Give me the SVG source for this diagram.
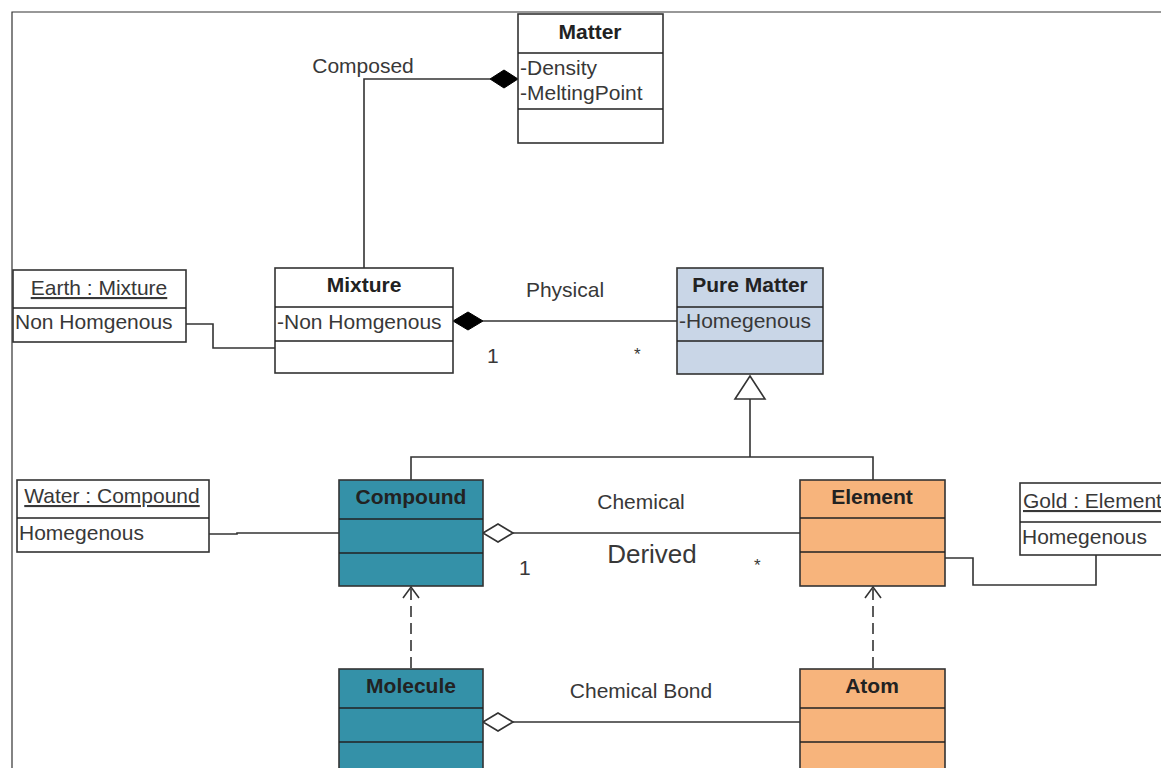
<svg xmlns="http://www.w3.org/2000/svg" width="1161" height="768" viewBox="0 0 1161 768">
<defs>
<style>
.box{stroke:#333;stroke-width:1.6}
.sep{stroke:#222;stroke-width:1.6}
.w{fill:#fff}
.pm{fill:#c9d6e7}
.teal{fill:#3491a8}
.org{fill:#f7b47c}
.t{font-family:"Liberation Sans",Arial,sans-serif;font-size:21px;fill:#383838}
.b{font-family:"Liberation Sans",Arial,sans-serif;font-size:21px;font-weight:bold;fill:#222;text-anchor:middle}
.u{text-decoration:underline}
.c{text-anchor:middle}
.ln{fill:none;stroke:#333;stroke-width:1.6}
.dash{fill:none;stroke:#333;stroke-width:1.6;stroke-dasharray:11 6}
</style>
</defs>
<rect width="1161" height="768" fill="#fff"/>
<path d="M12,768 V12 H1161" fill="none" stroke="#333" stroke-width="1.2"/>

<g id="connectors">
<path class="ln" d="M364,268 V79 H490"/>
<path d="M518,79 L504,70 L490,79 L504,88 Z" fill="#000" stroke="#000" stroke-width="1"/>
<path class="ln" d="M186,324 H213 V348 H275"/>
<path class="ln" d="M483,321 H677"/>
<path d="M453,321 L468,312 L483,321 L468,330 Z" fill="#000" stroke="#000" stroke-width="1"/>
<path class="ln" d="M750,399 V457 M411,480 V457 H873 V480"/>
<path d="M750,376 L765,399 L735,399 Z" fill="#fff" stroke="#333" stroke-width="1.6"/>
<path class="ln" d="M209,534 H237 V533 H339"/>
<path class="ln" d="M513,533 H800"/>
<path d="M483,533 L498,524 L513,533 L498,542 Z" fill="#fff" stroke="#333" stroke-width="1.6"/>
<path class="ln" d="M945,558 H973 V585 H1096 V555"/>
<path class="dash" d="M411,668 V588"/>
<path class="ln" d="M403,598 L411,587 L419,598"/>
<path class="dash" d="M873,668 V588"/>
<path class="ln" d="M865,598 L873,587 L881,598"/>
<path class="ln" d="M513,722 H800"/>
<path d="M483,722 L498,713 L513,722 L498,731 Z" fill="#fff" stroke="#333" stroke-width="1.6"/>
<text class="t c" x="363" y="73">Composed</text>
<text class="t c" x="565" y="297">Physical</text>
<text class="t" x="487" y="363">1</text>
<text class="t" x="634" y="360" style="font-size:17px">*</text>
<text class="t c" x="641" y="509">Chemical</text>
<text class="t c" x="652" y="563" style="font-size:26px">Derived</text>
<text class="t" x="519" y="575">1</text>
<text class="t" x="754" y="571" style="font-size:17px">*</text>
<text class="t c" x="641" y="698">Chemical Bond</text>
</g>

<g id="matter">
<rect class="box w" x="518" y="14" width="145" height="129"/>
<path class="sep" d="M518,53 H663 M518,109 H663"/>
<text class="b" x="590" y="39">Matter</text>
<text class="t" x="520" y="75">-Density</text>
<text class="t" x="520" y="100">-MeltingPoint</text>
</g>

<g id="earth">
<rect class="box w" x="13" y="270" width="173" height="72"/>
<path class="sep" d="M13,308 H186"/>
<text class="t c u" x="99" y="295">Earth : Mixture</text>
<text class="t" x="15" y="329">Non Homgenous</text>
</g>

<g id="mixture">
<rect class="box w" x="275" y="268" width="178" height="105"/>
<path class="sep" d="M275,307 H453 M275,341 H453"/>
<text class="b" x="364" y="292">Mixture</text>
<text class="t" x="277" y="329">-Non Homgenous</text>
</g>

<g id="pure-matter">
<rect class="box pm" x="677" y="268" width="146" height="106"/>
<path class="sep" d="M677,307 H823 M677,341 H823"/>
<text class="b" x="750" y="292">Pure Matter</text>
<text class="t" x="679" y="328">-Homegenous</text>
</g>

<g id="water">
<rect class="box w" x="17" y="480" width="192" height="72"/>
<path class="sep" d="M17,518 H209"/>
<text class="t c u" x="112" y="503">Water : Compound</text>
<text class="t" x="19" y="540">Homegenous</text>
</g>

<g id="compound">
<rect class="box teal" x="339" y="480" width="144" height="106"/>
<path class="sep" d="M339,519 H483 M339,553 H483"/>
<text class="b" x="411" y="504">Compound</text>
</g>

<g id="element">
<rect class="box org" x="800" y="480" width="145" height="106"/>
<path class="sep" d="M800,518 H945 M800,552 H945"/>
<text class="b" x="872" y="504">Element</text>
</g>

<g id="gold">
<rect class="box w" x="1020" y="483" width="160" height="72"/>
<path class="sep" d="M1020,522 H1180"/>
<text class="t u" x="1023" y="508">Gold : Element</text>
<text class="t" x="1022" y="544">Homegenous</text>
</g>

<g id="molecule">
<rect class="box teal" x="339" y="669" width="144" height="110"/>
<path class="sep" d="M339,708 H483 M339,742 H483"/>
<text class="b" x="411" y="693">Molecule</text>
</g>

<g id="atom">
<rect class="box org" x="800" y="669" width="145" height="110"/>
<path class="sep" d="M800,708 H945 M800,742 H945"/>
<text class="b" x="872" y="693">Atom</text>
</g>
</svg>
